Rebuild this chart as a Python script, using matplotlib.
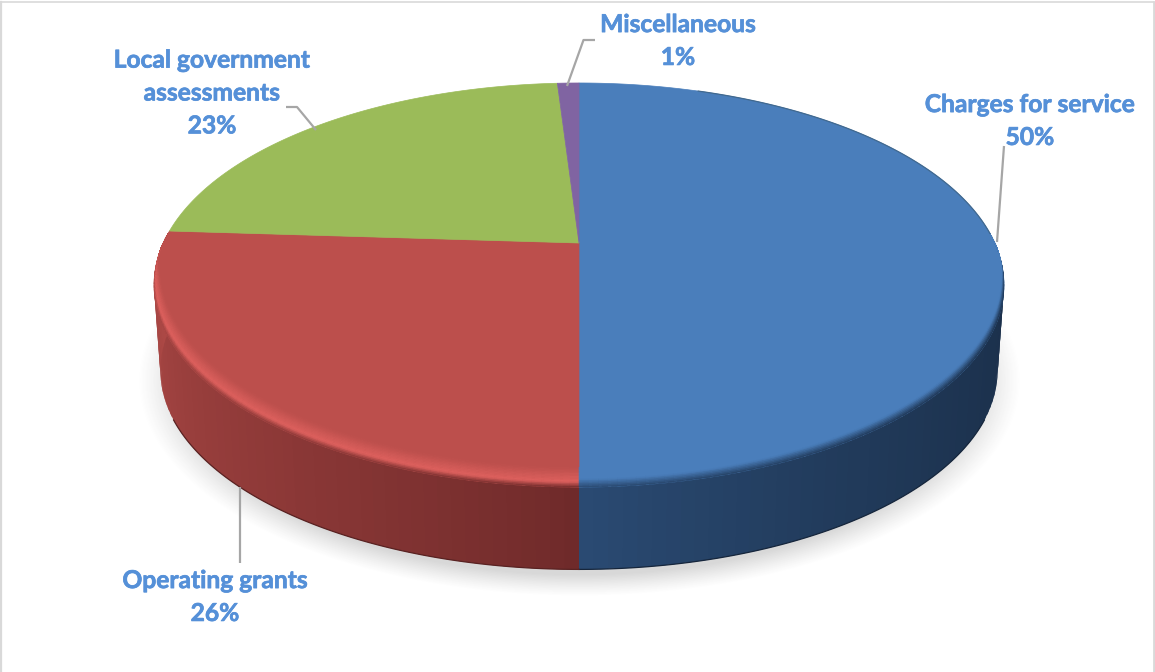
import numpy as np
import matplotlib
matplotlib.use("Agg")
import matplotlib.pyplot as plt
import matplotlib.patheffects as pe
from matplotlib.colors import to_rgb
from matplotlib.patches import Polygon

categories = ["Charges for service", "Operating grants",
              "Local government\nassessments", "Miscellaneous"]
shares = [50, 26, 23, 1]
top_colors = ["#4a7ebb", "#bc4f4c", "#9bbb59", "#8064a2"]
# side shading: colour at the start and the end of each visible side arc
side_ramps = [("#1b304b", "#2a4a72"), ("#6f2a2a", "#b04a47")]
glow_color = "#de615e"

label_centers = [(1030, 121), (215, 597), (212, 93), (678, 41)]
leaders = [
    [(1004, 146), (997, 242)],
    [(240, 487), (240, 563)],
    [(286, 107), (297, 107), (316, 130)],
    [(595, 40), (583.5, 40), (567, 86)],
]

fig = plt.figure(figsize=(11.55, 6.72), dpi=100, facecolor="white")
ax = fig.add_axes([0, 0, 1, 1])

# perspective projection of the unit disc
CX, CY = 579.0, 243.0
SX, SY, K = 415.7, 193.3, 0.208
DEPTH = 86.0
LOWER = 0.985


def project(theta, lower=False):
    x = np.sin(theta)
    y = np.cos(theta)
    d = 1 + K * y
    if lower:
        return CX + LOWER * SX * x / d, CY + DEPTH - LOWER * SY * y / d
    return CX + SX * x / d, CY - SY * y / d


def mix(a, b, t):
    a, b = np.array(to_rgb(a)), np.array(to_rgb(b))
    return tuple(a + (b - a) * t)


def side_color(i, frac):
    return mix(side_ramps[i][0], side_ramps[i][1], frac ** (2.2 if i == 0 else 0.85))


# soft ground shadow
yy, xx = np.mgrid[0:672, 0:1155]
rho = np.hypot((xx - 579) / 442.0, (yy - 380) / 216.0)
shadow = np.zeros((672, 1155, 4))
shadow[..., :3] = 0.25
shadow[..., 3] = np.clip((1 - rho) / 0.10, 0, 1) ** 1.2 * 0.2
ax.imshow(shadow, extent=(0, 1155, 672, 0), aspect="auto", zorder=1,
          interpolation="bilinear")
ax.set_xlim(0, 1155)
ax.set_ylim(672, 0)
ax.axis("off")

# wedge angles measured clockwise from twelve o'clock
edges = np.cumsum([0] + shares) / sum(shares) * 2 * np.pi
arcs = [(np.pi / 2 - 0.1, edges[1]), (edges[1], edges[2])]

# side wall of the two front wedges; each strip overlaps the next one
for i, (lo, hi) in enumerate(arcs):
    steps = np.linspace(lo, hi, 60)
    width = steps[1] - steps[0]
    for j, t0 in enumerate(steps[:-1]):
        t1 = min(t0 + 1.6 * width, hi)
        ts = np.linspace(t0, t1, 4)
        ux, uy = project(ts)
        lx, ly = project(ts[::-1], lower=True)
        ax.add_patch(Polygon(np.column_stack([np.r_[ux, lx], np.r_[uy, ly]]),
                             closed=True, facecolor=side_color(i, j / 58),
                             edgecolor="none", zorder=2 + j * 1e-3))
    t = np.linspace(max(lo, np.pi / 2 + 0.45), min(hi, 3 * np.pi / 2 - 0.45), 100)
    bx, by = project(t, lower=True)
    ax.plot(bx, by, color=mix(side_ramps[i][0], "#000000", 0.2), lw=0.9, zorder=3)

# flat top of every wedge
for i, color in enumerate(top_colors):
    t = np.linspace(edges[i], edges[i + 1], 200)
    x, y = project(t)
    pts = np.column_stack([np.r_[CX, x], np.r_[CY, y]])
    ax.add_patch(Polygon(pts, closed=True, facecolor=color, edgecolor=color,
                         linewidth=0.5, zorder=4))

# rounded bevel along the front rim, fading out towards the sides
BEVEL = 20.0
levels = np.linspace(0, 1, 15)
bevel_arcs = [(np.pi / 2 - 0.05, edges[1]), (edges[1], 3 * np.pi / 2 + 0.05)]
for i, (lo, hi) in enumerate(bevel_arcs):
    steps = np.linspace(lo, hi, 90)
    width = steps[1] - steps[0]
    for j, t0 in enumerate(steps[:-1]):
        t1 = min(t0 + 1.6 * width, hi)
        mid = 0.5 * (t0 + t1)
        fade = np.clip(-np.cos(mid) / 0.22, 0, 1)
        side = side_color(i, np.clip((mid - arcs[i][0]) / (arcs[i][1] - arcs[i][0]), 0, 1))
        ts = np.linspace(t0, t1, 4)
        bx, by = project(ts)
        inset = 6.0 * np.sin(ts) * fade
        for a, b in zip(levels[:-1], levels[1:]):
            m = 0.5 * (a + b)
            if i == 0:
                color = mix(side, top_colors[0], min(m / 0.42, 1))
            elif m < 0.28:
                color = mix(side, glow_color, m / 0.28)
            else:
                color = mix(glow_color, top_colors[1], (m - 0.28) / 0.72)
            if fade < 1:
                color = mix(top_colors[i], color, fade ** 0.5)
            outer = np.column_stack([bx - a * inset, by - a * BEVEL * fade])
            inner = np.column_stack([bx - b * inset, by - b * BEVEL * fade])
            ax.add_patch(Polygon(np.vstack([outer, inner[::-1]]), closed=True,
                                 facecolor=color, edgecolor=color, linewidth=0.3,
                                 zorder=5 + j * 1e-4))

# thin darker edge on the back of the largest wedge
t = np.linspace(0.35, np.pi / 2 - 0.05, 120)
ex, ey = project(t)
ax.plot(ex, ey, color="#41698f", lw=0.9, zorder=6)

# leader lines
for path in leaders:
    px, py = zip(*path)
    ax.plot(px, py, color="#a6a6a6", lw=1.6, zorder=7, solid_capstyle="butt")

# category labels with their shares
for name, share, (lx, ly) in zip(categories, shares, label_centers):
    ax.text(lx, ly, f"{name}\n{share}%", ha="center", va="center",
            fontfamily="Lato", fontweight="bold", fontsize=17.7,
            color="#5590d8", linespacing=1.52, zorder=8,
            path_effects=[pe.withStroke(linewidth=0.5, foreground="#5590d8")])

# chart frame
ax.plot([1, 1], [2, 672], color="#d9d9d9", lw=1.6, zorder=9)
ax.plot([1, 1153], [2, 2], color="#d9d9d9", lw=1.2, zorder=9)
ax.plot([1153.5, 1153.5], [2, 672], color="#d9d9d9", lw=2, zorder=9)

fig.savefig("out.png", dpi=100, facecolor="white")
